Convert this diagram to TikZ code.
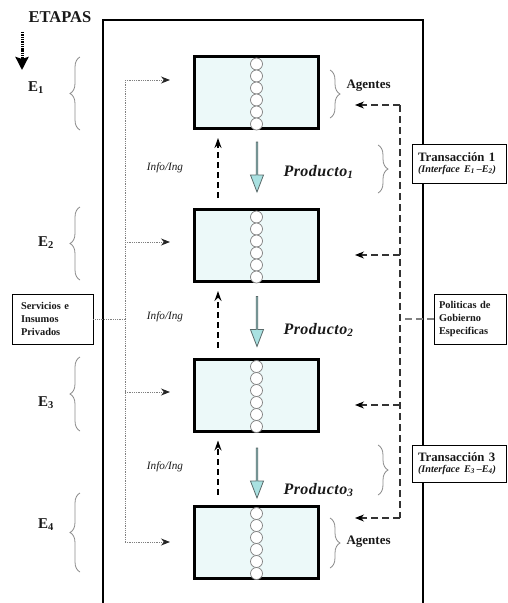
\documentclass[tikz,border=0pt]{standalone}
\usepackage{fontspec}
\setmainfont{Liberation Serif}
\usetikzlibrary{arrows.meta,decorations.pathreplacing,shapes.arrows}

\definecolor{stagefill}{HTML}{ECF9F9}
\definecolor{prodfill}{HTML}{A9E1E1}
\definecolor{prodline}{HTML}{5A6A6A}
\definecolor{bracegray}{HTML}{8A8A8A}

\begin{document}
\begin{tikzpicture}[x=1pt,y=-1pt,
  stage/.style={draw,line width=3pt,fill=stagefill,minimum width=124pt,minimum height=72pt,inner sep=0pt},
  agent/.style={draw=gray,line width=0.7pt,fill=white},
  prodarrow/.style={shape=single arrow,draw=prodline,line width=0.8pt,fill=prodfill,rotate=-90,
    minimum height=50pt,minimum width=13pt,single arrow head extend=3pt,single arrow tip angle=42,inner sep=0pt},
  infoarrow/.style={line width=1.5pt,dash pattern=on 6pt off 4pt,-{Stealth[length=10pt,width=7pt]},
    shorten <=10pt,shorten >=8pt},
  srvline/.style={gray,line width=0.9pt,dash pattern=on 1pt off 0.8pt},
  polline/.style={black!80,line width=1.1pt,dash pattern=on 7pt off 4pt},
  tipsrv/.style={-{Stealth[length=9pt,width=7pt,black!85]}},
  tippol/.style={-{Stealth[length=9pt,width=7pt,black]}},
  lbrace/.style={decorate,decoration={brace,amplitude=10pt},bracegray,line width=0.8pt},
  sidebox/.style={draw,line width=0.9pt,fill=white,align=left,minimum height=50pt,inner ysep=0pt,
    font=\bfseries\fontsize{10.4}{13}\selectfont},
  every node/.style={text=black!90}]
\useasboundingbox (0,0) rectangle (507,603);

% marco de la cadena
\draw[line width=2.6pt] (103,606) -- (103,20) -- (423,20) -- (423,606);

% etapas
\node[font=\bfseries\fontsize{16.5}{18}\selectfont] (etapas) at (60,17) {ETAPAS};
\coordinate (etapasdown) at (22,70);
\draw[line width=3pt,dash pattern=on 1.4pt off 0.9pt,-{Stealth[length=13pt,width=13pt,inset=2pt]}]
  (22,32) -- (etapasdown);

\node[font=\bfseries\fontsize{15}{17}\selectfont] (lb1) at (36,88) {E\textsubscript{1}};
\node[font=\bfseries\fontsize{15}{17}\selectfont] (lb2) at (46,243) {E\textsubscript{2}};
\node[font=\bfseries\fontsize{15}{17}\selectfont] (lb3) at (46,403) {E\textsubscript{3}};
\node[font=\bfseries\fontsize{15}{17}\selectfont] (lb4) at (46,525) {E\textsubscript{4}};
\draw[lbrace] (80,130) -- (80,57);
\draw[lbrace] (80,280) -- (80,207);
\draw[lbrace] (80,431) -- (80,357);
\draw[lbrace] (80,572) -- (80,493);

% etapas de la cadena
\node[stage] (st1) at (256.5,92.5) {};
\node[stage] (st2) at (256.5,245.5) {};
\node[stage] (st3) at (256.5,395) {};
\node[stage] (st4) at (256.5,542) {};
\foreach \s in {st1,st2,st3,st4}
  \foreach \k in {0,...,5}
    \draw[agent] ([yshift=-9pt-12pt*\k]\s.north) circle[radius=6];

% productos e informacion
\node[prodarrow] (pr1) at (257,166) {};
\node[prodarrow] (pr2) at (257,320.5) {};
\node[prodarrow] (pr3) at (257,472) {};
\draw[infoarrow] ([xshift=-38.5pt]st2.north) -- ([xshift=-38.5pt]st1.south);
\draw[infoarrow] ([xshift=-38.5pt]st3.north) -- ([xshift=-38.5pt]st2.south);
\draw[infoarrow] ([xshift=-38.5pt]st4.north) -- ([xshift=-38.5pt]st3.south);
\node[font=\itshape\fontsize{11.2}{13}\selectfont] (inf1) at (165,168) {Info/Ing};
\node[font=\itshape\fontsize{11.2}{13}\selectfont] (inf2) at (165,317) {Info/Ing};
\node[font=\itshape\fontsize{11.2}{13}\selectfont] (inf3) at (165,467) {Info/Ing};
\node[anchor=west,font=\bfseries\itshape\fontsize{16}{18}\selectfont\addfontfeature{LetterSpace=3}] (prl1) at (280,172) {Producto\textsubscript{1}};
\node[anchor=west,font=\bfseries\itshape\fontsize{16}{18}\selectfont\addfontfeature{LetterSpace=3}] (prl2) at (280,330) {Producto\textsubscript{2}};
\node[anchor=west,font=\bfseries\itshape\fontsize{16}{18}\selectfont\addfontfeature{LetterSpace=3}] (prl3) at (280,490) {Producto\textsubscript{3}};

% agentes y transacciones
\draw[lbrace] (330,70) -- (330,118);
\draw[lbrace] (330,518) -- (330,568);
\draw[lbrace] (378,145) -- (378,193);
\draw[lbrace] (378,445) -- (378,495);
\node[anchor=west,font=\bfseries\fontsize{13}{15}\selectfont] (ag1) at (343,86) {Agentes};
\node[anchor=west,font=\bfseries\fontsize{13}{15}\selectfont] (ag4) at (343,542) {Agentes};

% servicios privados
\node[sidebox,text width=63pt,inner xsep=9pt] (srv) at (52.5,319) {Servicios e\\Insumos\\Privados};
\coordinate (sb0) at (125,319);
\coordinate (sb1) at (125,80);
\coordinate (sb2) at (125,242);
\coordinate (sb3) at (125,392);
\coordinate (sb4) at (125,542);
\coordinate (sa1) at (170,80);
\coordinate (sa2) at (170,242);
\coordinate (sa3) at (170,392);
\coordinate (sa4) at (170,542);
\draw[srvline] (srv.east) -- (sb0);
\draw[srvline] (sb1) -- (sb4);
\draw[srvline,tipsrv] (sb1) -- (sa1);
\draw[srvline,tipsrv] (sb2) -- (sa2);
\draw[srvline,tipsrv] (sb3) -- (sa3);
\draw[srvline,tipsrv] (sb4) -- (sa4);

% politicas de gobierno
\node[sidebox,text width=62pt,inner xsep=5pt] (pol) at (470,319) {Politicas de\\Gobierno\\Especificas};
\coordinate (pb0) at (400,319);
\coordinate (pb1) at (400,105);
\coordinate (pb2) at (400,255);
\coordinate (pb3) at (400,405);
\coordinate (pb4) at (400,518);
\coordinate (pa1) at (355,105);
\coordinate (pa2) at (355,255);
\coordinate (pa3) at (355,405);
\coordinate (pa4) at (355,518);
\draw[polline,gray] (pol.west) -- (pb0);
\draw[polline] (pb1) -- (pb4);
\draw[polline,tippol] (pb1) -- (pa1);
\draw[polline,tippol] (pb2) -- (pa2);
\draw[polline,tippol] (pb3) -- (pa3);
\draw[polline,tippol] (pb4) -- (pa4);

% cajas de transaccion
\node[sidebox,minimum height=39pt,minimum width=94pt,text width=82pt,inner xsep=6pt,font=\bfseries\fontsize{12.8}{12}\selectfont] (tr1) at (459,163.5)
  {Transacción 1\\[-1pt]{\itshape\fontsize{10.2}{11}\selectfont(Interface E\textsubscript{1}\,–E\textsubscript{2})}};
\node[sidebox,minimum height=37pt,minimum width=94pt,text width=82pt,inner xsep=6pt,font=\bfseries\fontsize{12.8}{12}\selectfont] (tr3) at (459,463.5)
  {Transacción 3\\[-1pt]{\itshape\fontsize{10.2}{11}\selectfont(Interface E\textsubscript{3}\,–E\textsubscript{4})}};
\end{tikzpicture}
\end{document}
